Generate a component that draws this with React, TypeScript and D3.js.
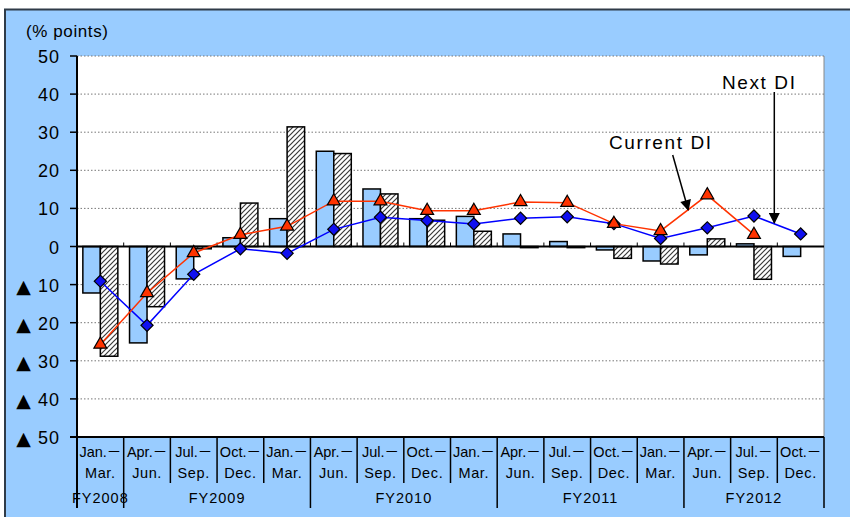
import React from "react";
import * as d3 from "d3";

const line1 = ["Jan.－", "Apr.－", "Jul.－", "Oct.－", "Jan.－", "Apr.－", "Jul.－", "Oct.－", "Jan.－", "Apr.－", "Jul.－", "Oct.－", "Jan.－", "Apr.－", "Jul.－", "Oct.－"];
const line2 = ["Mar.", "Jun.", "Sep.", "Dec.", "Mar.", "Jun.", "Sep.", "Dec.", "Mar.", "Jun.", "Sep.", "Dec.", "Mar.", "Jun.", "Sep.", "Dec."];
const fyLabels = ["FY2008", "FY2009", "FY2010", "FY2011", "FY2012"];
const fyCounts = [1, 4, 4, 4, 3];

// bars
const actualBars = [-12.2, -25.3, -8.5, 2.3, 7.3, 25.0, 15.1, 7.3, 7.9, 3.3, 1.3, -0.9, -3.8, -2.2, 0.7, -2.6];
const forecastBars: (number | null)[] = [-28.8, -15.8, -0.6, 11.4, 31.4, 24.4, 13.8, 6.9, 4.0, -0.3, -0.3, -3.1, -4.6, 2.0, -8.6, null];
// lines
const currentDI: (number | null)[] = [-25.7, -12.2, -1.7, 3.1, 5.3, 11.9, 11.9, 9.4, 9.4, 11.7, 11.5, 6.0, 4.1, 13.5, 3.1, null];
const nextDI = [-9.1, -20.7, -7.3, -0.6, -1.8, 4.5, 7.7, 6.8, 5.9, 7.4, 7.8, 6.0, 2.1, 4.9, 8.0, 3.3];

const yTicks = [50, 40, 30, 20, 10, 0, -10, -20, -30, -40, -50];

const W = 850, H = 517;
const L = 77, R = 824, T = 56, B = 437;

export default function App() {
  const n = line1.length;
  const x = d3.scaleBand<number>().domain(d3.range(n)).range([L, R]).padding(0);
  const bw = x.bandwidth();
  const y = d3.scaleLinear().domain([-50, 50]).range([B, T]);
  const cx = (i: number) => (x(i) as number) + bw / 2;
  const barW = 17.5;
  const font = "'Liberation Sans', Arial, 'Noto Sans CJK JP', sans-serif";

  const lineGen = d3
    .line<number | null>()
    .defined((d) => d !== null)
    .x((_, i) => cx(i))
    .y((d) => y(d as number));

  const tri = d3.symbol(d3.symbolTriangle, 72)() as string;
  const sq = d3.symbol(d3.symbolSquare, 74)() as string;

  const fyBounds: number[] = [];
  let acc = 0;
  fyCounts.forEach((c) => {
    fyBounds.push(acc);
    acc += c;
  });
  fyBounds.push(acc);

  return (
    <svg width={W} height={H} style={{ position: "absolute", left: 0, top: 0, background: "#fff" }}>
      <defs>
        <pattern id="hatch" patternUnits="userSpaceOnUse" width="5" height="5">
          <rect width="5" height="5" fill="#fff" />
          <path d="M-1,6 L6,-1 M-1,1 L1,-1 M4,6 L6,4" stroke="#3a3a3a" strokeWidth="1.2" />
        </pattern>
        <marker id="arrow" viewBox="0 0 10 10" refX="9" refY="5" markerWidth="12" markerHeight="11" orient="auto" markerUnits="userSpaceOnUse">
          <path d="M0,0 L10,5 L0,10 z" fill="#000" />
        </marker>
      </defs>
      <rect x={5} y={9.5} width={900} height={600} fill="#99CCFF" stroke="#2f3b48" strokeWidth={2} />
      <rect x={L} y={T} width={R - L} height={B - T} fill="#fff" />
      <line x1={R} x2={R} y1={T} y2={B} stroke="#888" strokeWidth={1} />

      {yTicks.filter((t) => t !== 0 && t !== -50).map((t) => (
        <line key={"g" + t} x1={L} x2={R} y1={y(t)} y2={y(t)} stroke="#777" strokeWidth={1} strokeDasharray="1.5,2" />
      ))}

      {actualBars.map((v, i) => (
        <rect key={"a" + i} x={cx(i) - barW} width={barW} y={Math.min(y(v), y(0))} height={Math.max(Math.abs(y(v) - y(0)), 1)} fill="#99CCFF" stroke="#000" strokeWidth={1.5} />
      ))}
      {forecastBars.map((v, i) =>
        v === null ? null : (
          <rect key={"f" + i} x={cx(i)} width={barW} y={Math.min(y(v), y(0))} height={Math.max(Math.abs(y(v) - y(0)), 1)} fill="url(#hatch)" stroke="#000" strokeWidth={1.5} />
        )
      )}

      <line x1={L} x2={R} y1={y(0)} y2={y(0)} stroke="#000" strokeWidth={2} />
      {d3.range(1, n).map((i) => (
        <line key={"zt" + i} x1={x(i) as number} x2={x(i) as number} y1={y(0)} y2={y(0) - 4} stroke="#000" strokeWidth={1} />
      ))}

      <path d={lineGen(nextDI) as string} fill="none" stroke="#0000FF" strokeWidth={1.5} />
      <path d={lineGen(currentDI) as string} fill="none" stroke="#FF3300" strokeWidth={1.5} />
      {nextDI.map((v, i) => (
        <path key={"nd" + i} d={sq} transform={`translate(${cx(i)},${y(v)}) rotate(45)`} fill="#1010F0" stroke="#000" strokeWidth={1.2} />
      ))}
      {currentDI.map((v, i) =>
        v === null ? null : (
          <path key={"cd" + i} d={tri} transform={`translate(${cx(i)},${y(v)})`} fill="#FF3300" stroke="#000" strokeWidth={1.2} />
        )
      )}

      <line x1={L} x2={L} y1={T} y2={508} stroke="#000" strokeWidth={2} />
      {yTicks.map((t) => (
        <line key={"yt" + t} x1={L - 7} x2={L} y1={y(t)} y2={y(t)} stroke="#000" strokeWidth={1.5} />
      ))}
      {yTicks.map((t) => (
        <text key={"yl" + t} x={60} y={y(t) + 1} textAnchor="end" dominantBaseline="central" fontFamily={font} fontSize={18} letterSpacing={1} fill="#000">
          {t < 0 ? (
            <>
              <tspan fontSize={19} fontFamily="'DejaVu Sans', sans-serif">▲</tspan>
              <tspan> {-t}</tspan>
            </>
          ) : (
            `${t}`
          )}
        </text>
      ))}
      <text x={26} y={37} fontFamily={font} fontSize={17} letterSpacing={0.6} fill="#000">(% points)</text>

      <line x1={L - 7} x2={R} y1={B} y2={B} stroke="#000" strokeWidth={2} />
      {d3.range(1, n + 1).map((i) => {
        const bx = i === n ? R : (x(i) as number);
        const isFy = fyBounds.includes(i);
        return <line key={"sep" + i} x1={bx} x2={bx} y1={B} y2={isFy ? 508 : 483} stroke="#000" strokeWidth={1.5} />;
      })}
      {line1.map((s, i) => (
        <text key={"l1" + i} x={cx(i)} y={457} textAnchor="middle" fontFamily={font} fontSize={14.5} fill="#000">{s}</text>
      ))}
      {line2.map((s, i) => (
        <text key={"l2" + i} x={cx(i)} y={478} textAnchor="middle" fontFamily={font} fontSize={14.5} letterSpacing={0.6} fill="#000">{s}</text>
      ))}
      {fyLabels.map((s, k) => {
        const a = x(fyBounds[k]) as number;
        const b = fyBounds[k + 1] >= n ? R : (x(fyBounds[k + 1]) as number);
        return (
          <text key={"fy" + k} x={(a + b) / 2} y={503} textAnchor="middle" fontFamily={font} fontSize={14.5} letterSpacing={1} fill="#000">{s}</text>
        );
      })}

      <text x={609} y={149} fontFamily={font} fontSize={19} letterSpacing={1.6} fill="#000">Current DI</text>
      <line x1={672.7} y1={155} x2={688.3} y2={210} stroke="#000" strokeWidth={1.5} markerEnd="url(#arrow)" />
      <text x={722} y={89} fontFamily={font} fontSize={19} letterSpacing={1.6} fill="#000">Next DI</text>
      <line x1={774.3} y1={92} x2={774.3} y2={223} stroke="#000" strokeWidth={1.5} markerEnd="url(#arrow)" />
    </svg>
  );
}
